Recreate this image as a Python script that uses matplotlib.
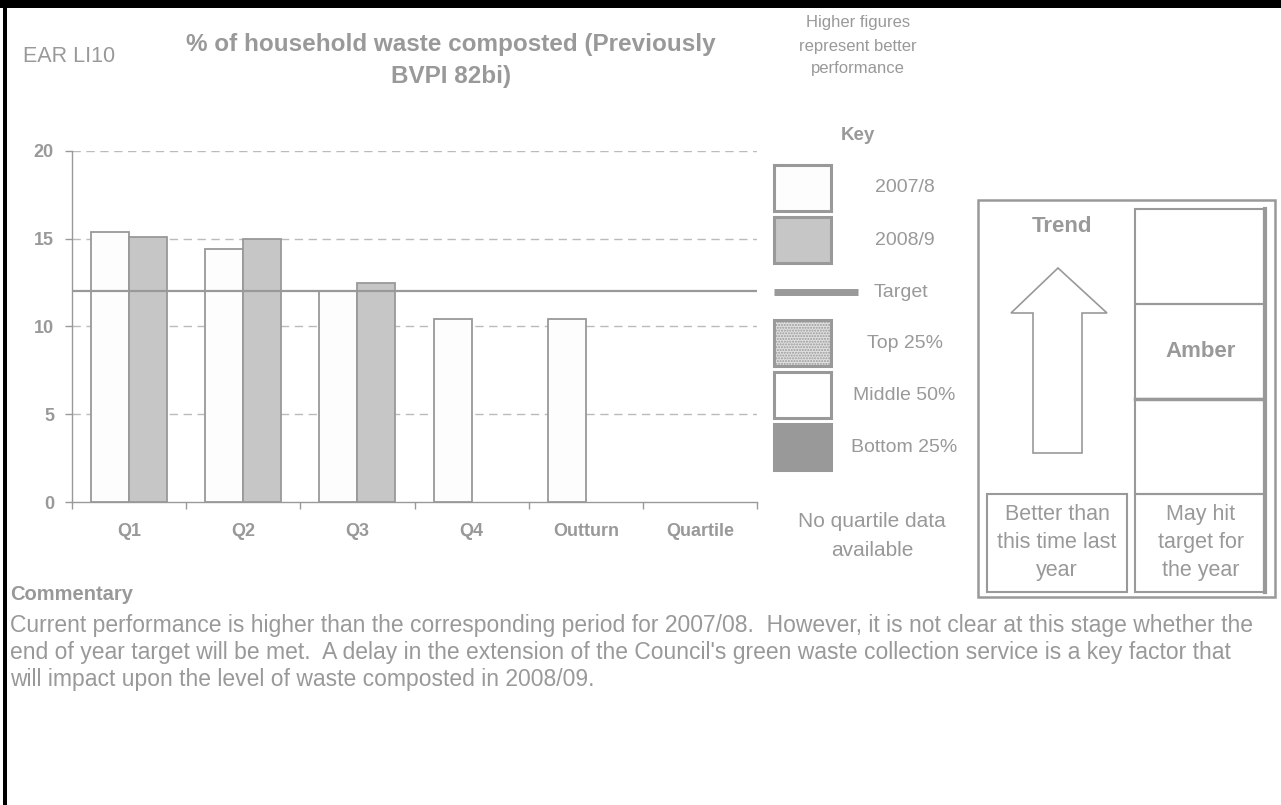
import numpy as np
import matplotlib
matplotlib.use("Agg")
import matplotlib.pyplot as plt
from matplotlib.patches import Rectangle, Polygon

# ---------------- data ----------------
categories = ["Q1", "Q2", "Q3", "Q4", "Outturn", "Quartile"]
values_2007 = [15.4, 14.4, 12.0, 10.4, 10.4, np.nan]
values_2008 = [15.1, 15.0, 12.5, np.nan, np.nan, np.nan]
target = 12
y_ticks = [0, 5, 10, 15, 20]

GRAY = "#999999"
TXT = "#999999"
FONT = "Liberation Sans"
plt.rcParams["font.family"] = [FONT, "DejaVu Sans"]

W, H = 1281, 805
fig = plt.figure(figsize=(W / 100, H / 100), dpi=100)
fig.patch.set_facecolor("white")

# overlay axes in pixel coordinates
ov = fig.add_axes([0, 0, 1, 1], zorder=0)
ov.set_xlim(0, W)
ov.set_ylim(H, 0)
ov.axis("off")
ov.patch.set_alpha(0)

# borders
ov.add_patch(Rectangle((0, 0), W, 8, facecolor="black", edgecolor="none"))
ov.add_patch(Rectangle((3, 0), 4, H, facecolor="black", edgecolor="none"))

# ---------------- chart ----------------
x0, x1, yt, yb = 72, 757, 151, 502
ax = fig.add_axes([x0 / W, (H - yb) / H, (x1 - x0) / W, (yb - yt) / H], zorder=2)
ax.patch.set_alpha(0)
n = len(categories)
xc = np.arange(n) + 0.5
bw = 1 / 3
ax.bar(xc - bw / 2, values_2007, width=bw, color="#fdfdfd", edgecolor=GRAY,
       linewidth=1.3, zorder=3)
ax.bar(xc + bw / 2, values_2008, width=bw, color="#c6c6c6", edgecolor=GRAY,
       linewidth=1.3, zorder=3)
ax.axhline(target, color=GRAY, lw=1.6, zorder=4)
for yv in y_ticks[1:]:
    ax.axhline(yv, color="#bbbbbb", lw=1.0, dashes=(6, 4), zorder=1)
ax.set_xlim(0, n)
ax.set_ylim(0, 20)
ax.set_yticks(y_ticks)
ax.set_yticklabels([str(v) for v in y_ticks], fontsize=13, fontweight="bold", color=TXT)
ax.set_xticks(np.arange(n + 1))
ax.set_xticklabels([])
ax.set_xticks(xc, minor=True)
ax.set_xticklabels(categories, minor=True, fontsize=13, fontweight="bold", color=TXT)
ax.tick_params(axis="x", which="major", length=5, color=GRAY, width=1)
ax.tick_params(axis="x", which="minor", length=0, pad=15)
ax.tick_params(axis="y", length=5, color=GRAY, width=1, pad=8)
for s in ["top", "right"]:
    ax.spines[s].set_visible(False)
for s in ["left", "bottom"]:
    ax.spines[s].set_color(GRAY)
    ax.spines[s].set_linewidth(1.0)

# ---------------- header texts ----------------
ov.text(23, 57, "EAR LI10", fontsize=15.5, color=TXT, va="center", ha="left")
ov.text(451, 45, "% of household waste composted (Previously", fontsize=17.5,
        fontweight="bold", color=TXT, ha="center", va="center")
ov.text(451, 77, "BVPI 82bi)", fontsize=17.5, fontweight="bold", color=TXT,
        ha="center", va="center")
for i, line in enumerate(["Higher figures", "represent better", "performance"]):
    ov.text(858, 23 + 23 * i, line, fontsize=12, color=TXT, ha="center", va="center")
ov.text(858, 135, "Key", fontsize=13.5, fontweight="bold", color=TXT, ha="center", va="center")

# ---------------- key ----------------
sw_x, sw_w = 774, 57
keys = [
    (165, "#fdfdfd", None, "2007/8", 905),
    (217, "#c6c6c6", None, "2008/9", 905),
    (320, "#e0e0e0", "......", "Top 25%", 905),
    (372, "white", None, "Middle 50%", 904),
    (424, GRAY, None, "Bottom 25%", 904),
]
for y, fc, hatch, lab, lx in keys:
    r = Rectangle((sw_x, y), sw_w, 46, facecolor=fc, edgecolor=GRAY, lw=2.2,
                  hatch=hatch)
    ov.add_patch(r)
    ov.text(lx, y + 23, lab, fontsize=14, color=TXT, ha="center", va="center")
ov.plot([774, 858], [292, 292], color=GRAY, lw=5, solid_capstyle="butt")
ov.text(901, 292, "Target", fontsize=14, color=TXT, ha="center", va="center")
ov.text(872, 521, "No quartile data", fontsize=15, color=TXT, ha="center", va="center")
ov.text(872, 550, "available", fontsize=15, color=TXT, ha="center", va="center")

# ---------------- right panel ----------------
ov.add_patch(Rectangle((978, 200), 1275 - 978, 597 - 200, facecolor="none",
                       edgecolor=GRAY, lw=1.8))
for (ya, yb2) in [(209, 304), (304, 399), (399, 494), (494, 592)]:
    ov.add_patch(Rectangle((1135, ya), 1264 - 1135, yb2 - ya, facecolor="none",
                           edgecolor=GRAY, lw=1.5))
ov.plot([1265, 1265], [209, 592], color=GRAY, lw=3)
ov.plot([1135, 1264], [399, 399], color=GRAY, lw=2.5)
ov.add_patch(Rectangle((987, 494), 1127 - 987, 592 - 494, facecolor="none",
                       edgecolor=GRAY, lw=1.5))
arrow = [(1058, 268), (1107, 313), (1082, 313), (1082, 453), (1033, 453),
         (1033, 313), (1011, 313)]
ov.add_patch(Polygon(arrow, closed=True, facecolor="white", edgecolor=GRAY, lw=1.2))
ov.text(1062, 226, "Trend", fontsize=16, fontweight="bold", color=TXT, ha="center", va="center")
ov.text(1201, 351, "Amber", fontsize=16, fontweight="bold", color=TXT, ha="center", va="center")
for i, line in enumerate(["Better than", "this time last", "year"]):
    ov.text(1057, 514 + 28 * i, line, fontsize=15.5, color=TXT, ha="center", va="center")
for i, line in enumerate(["May hit", "target for", "the year"]):
    ov.text(1201, 514 + 28 * i, line, fontsize=15.5, color=TXT, ha="center", va="center")

# ---------------- commentary ----------------
ov.text(10, 594, "Commentary", fontsize=14.5, fontweight="bold", color=TXT, ha="left", va="center")
comment = [
    "Current performance is higher than the corresponding period for 2007/08.  However, it is not clear at this stage whether the",
    "end of year target will be met.  A delay in the extension of the Council's green waste collection service is a key factor that",
    "will impact upon the level of waste composted in 2008/09.",
]
for i, line in enumerate(comment):
    ov.text(10, 625 + 27 * i, line, fontsize=16.5, color=TXT, ha="left", va="center")

fig.savefig("out.png", dpi=100)
